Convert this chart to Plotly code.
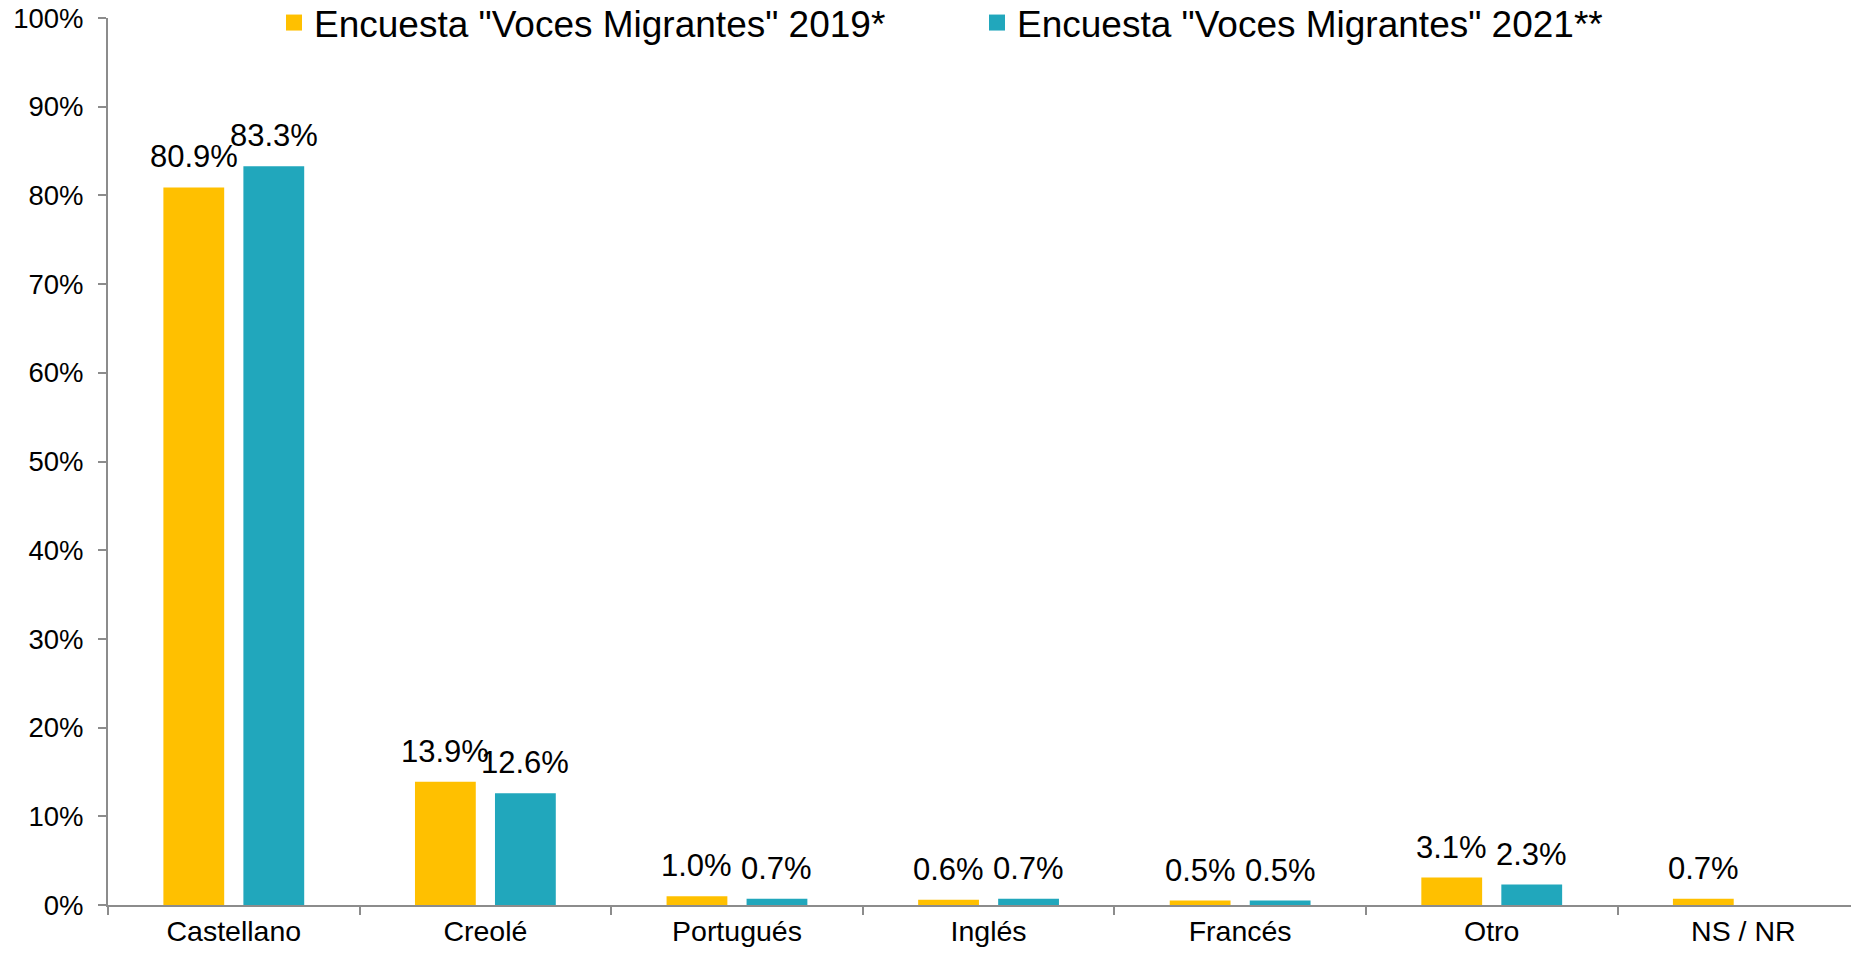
import plotly.graph_objects as go

categories = ["Castellano", "Creolé", "Portugués", "Inglés", "Francés", "Otro", "NS / NR"]
values_2019 = [80.9, 13.9, 1.0, 0.6, 0.5, 3.1, 0.7]
values_2021 = [83.3, 12.6, 0.7, 0.7, 0.5, 2.3, None]
name_2019 = 'Encuesta "Voces Migrantes" 2019*'
name_2021 = 'Encuesta "Voces Migrantes" 2021**'
y_ticks = [0, 10, 20, 30, 40, 50, 60, 70, 80, 90, 100]

COL_2019 = "#FFC000"
COL_2021 = "#21A7BC"
AXIS_COL = "#8C8C8C"
FONT = "Liberation Sans, Arial, sans-serif"

W, H = 1851, 959
ML, MR, MT, MB = 108, 0, 18, 54
BARGAP = 0.364
XMAX = 6.428
cat_px = (W - ML - MR) / (XMAX + 0.5)
offset_px = (1 - BARGAP) / 4 * cat_px

fig = go.Figure()
fig.add_trace(go.Bar(x=categories, y=values_2019, name=name_2019, showlegend=False,
                     marker=dict(color=COL_2019, line=dict(width=0))))
fig.add_trace(go.Bar(x=categories, y=values_2021, name=name_2021, showlegend=False,
                     marker=dict(color=COL_2021, line=dict(width=0))))
# legend entries with larger square swatches
for nm, col in ((name_2019, COL_2019), (name_2021, COL_2021)):
    fig.add_trace(go.Scatter(x=[None], y=[None], mode="markers", name=nm,
                             marker=dict(symbol="square", size=19, color=col),
                             hoverinfo="skip"))

annotations = []
for vals, shift in ((values_2019, -offset_px), (values_2021, offset_px)):
    for c, v in zip(categories, vals):
        if v is None:
            continue
        annotations.append(dict(x=c, y=v, xref="x", yref="y", text=f"{v:.1f}%",
                                showarrow=False, yanchor="bottom", xanchor="center",
                                xshift=shift, yshift=11,
                                font=dict(size=31, color="black", family=FONT)))

fig.update_layout(
    width=W, height=H,
    margin=dict(l=ML, r=MR, t=MT, b=MB, autoexpand=False),
    paper_bgcolor="white", plot_bgcolor="white",
    barmode="group", bargap=BARGAP, bargroupgap=0.24,
    font=dict(family=FONT, color="black"),
    annotations=annotations,
    legend=dict(orientation="h", xref="container", yref="container",
                x=274 / W, y=1 - 23 / H, xanchor="left", yanchor="middle",
                font=dict(size=37, family=FONT, color="black"),
                entrywidth=658, bgcolor="rgba(0,0,0,0)", traceorder="normal"),
    xaxis=dict(type="category", range=[-0.5, XMAX], showline=True, linecolor=AXIS_COL,
               linewidth=2, ticks="outside", tickson="boundaries", ticklen=8,
               tickcolor=AXIS_COL, tickwidth=2, showgrid=False, zeroline=False,
               tickfont=dict(size=28.5, family=FONT, color="black")),
    yaxis=dict(range=[0, 100], tickvals=y_ticks, ticktext=[f"{t}%" for t in y_ticks],
               showline=True, linecolor=AXIS_COL, linewidth=2, ticks="outside",
               ticklen=8, tickcolor=AXIS_COL, tickwidth=2, showgrid=False,
               zeroline=False, ticklabelstandoff=9,
               tickfont=dict(size=27.5, family=FONT, color="black")),
)

fig.write_html("out.html", config={"displayModeBar": False},
               post_script="document.body.style.margin='0';")
